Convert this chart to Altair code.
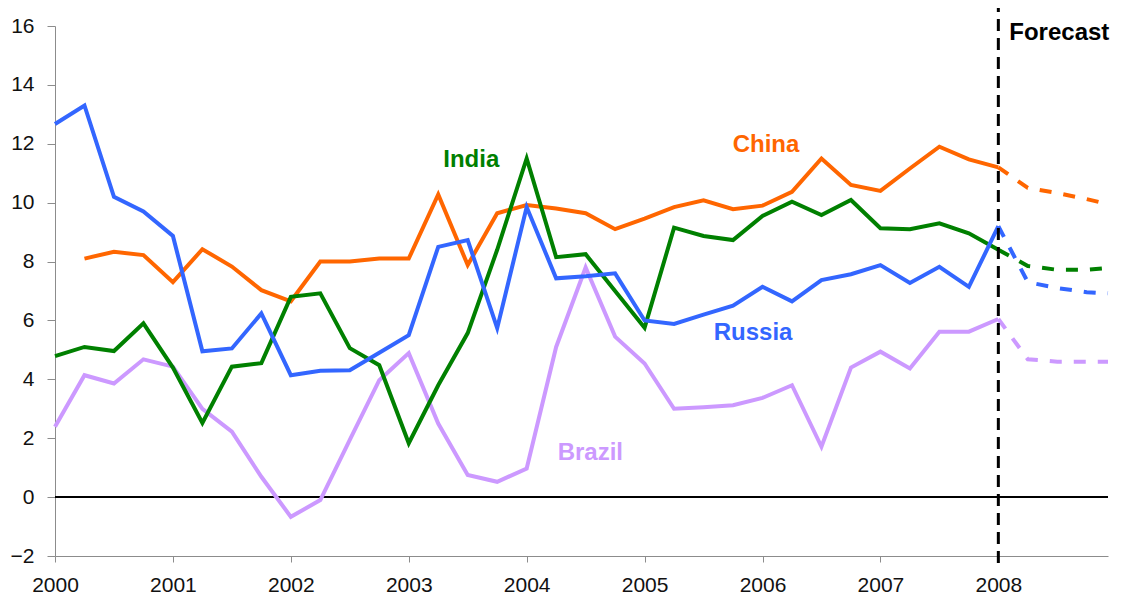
import altair as alt
import pandas as pd

# quarterly observations 2000Q1 .. 2008Q1
quarters = [2000 + i * 0.25 for i in range(33)]

china = [None, 8.1, 8.33, 8.22, 7.3, 8.42, 7.83, 7.03, 6.65, 8.0, 8.0, 8.1, 8.1,
         10.28, 7.88, 9.64, 9.92, 9.8, 9.64, 9.1, 9.46, 9.85, 10.08, 9.78, 9.9,
         10.37, 11.5, 10.6, 10.4, 11.16, 11.9, 11.47, 11.2]
india = [4.79, 5.1, 4.96, 5.9, 4.4, 2.52, 4.43, 4.55, 6.8, 6.92, 5.06, 4.48, 1.83,
         3.8, 5.57, 8.4, 11.5, 8.15, 8.25, 7.0, 5.75, 9.15, 8.87, 8.73, 9.55,
         10.03, 9.58, 10.09, 9.13, 9.1, 9.3, 8.96, 8.4]
russia = [12.67, 13.3, 10.2, 9.7, 8.87, 4.95, 5.05, 6.24, 4.14, 4.29, 4.31, 4.9, 5.5,
          8.5, 8.73, 5.74, 9.85, 7.43, 7.5, 7.6, 6.0, 5.88, 6.2, 6.5, 7.14,
          6.65, 7.37, 7.57, 7.88, 7.27, 7.82, 7.14, 9.2]
brazil = [2.39, 4.14, 3.86, 4.68, 4.43, 3.0, 2.22, 0.69, -0.67, -0.1, 1.94, 3.97, 4.89,
          2.5, 0.75, 0.52, 0.97, 5.1, 7.8, 5.45, 4.54, 3.0, 3.05, 3.12, 3.37,
          3.8, 1.71, 4.4, 4.94, 4.37, 5.62, 5.62, 6.05]

# forecast path
forecast_x = [2008.0, 2008.25, 2008.5, 2008.75, 2008.93]
china_fc = [11.2, 10.5, 10.33, 10.12, 9.95]
india_fc = [8.4, 7.85, 7.72, 7.72, 7.78]
russia_fc = [9.2, 7.3, 7.1, 6.96, 6.92]
brazil_fc = [6.05, 4.68, 4.6, 4.6, 4.6]

countries = ["Brazil", "China", "India", "Russia"]
colors = ["#CC99FF", "#FF6600", "#008000", "#3366FF"]

# in-chart series labels
label_names = ["China", "India", "Russia", "Brazil"]
label_x = [2006.03, 2003.53, 2005.92, 2004.54]
label_y = [11.96, 11.45, 5.57, 1.49]

forecast_year = 2008
x_ticks = list(range(2000, 2009))
y_ticks = list(range(-2, 17, 2))

series = {"Brazil": (brazil, brazil_fc), "China": (china, china_fc),
          "India": (india, india_fc), "Russia": (russia, russia_fc)}
rows = []
for name in countries:
    act, fc = series[name]
    for x, v in zip(quarters, act):
        if v is not None:
            rows.append({"x": x, "v": v, "country": name, "part": "actual"})
    for x, v in zip(forecast_x, fc):
        rows.append({"x": x, "v": v, "country": name, "part": "forecast"})
df = pd.DataFrame(rows)

labels_df = pd.DataFrame({"label": label_names, "x": label_x, "y": label_y})

xscale = alt.Scale(domain=[2000, 2008.93], nice=False, zero=False)
yscale = alt.Scale(domain=[-2, 16], nice=False, zero=False)
cscale = alt.Scale(domain=countries, range=colors)

xaxis = alt.Axis(values=x_ticks, format="d", title=None, tickSize=6, labelPadding=12,
                 labelFlush=False)
yaxis = alt.Axis(values=y_ticks, title=None, tickSize=8, labelPadding=13)

base = alt.Chart(df)

actual = base.transform_filter("datum.part == 'actual'").mark_line(
    strokeWidth=4, strokeJoin="miter"
).encode(
    x=alt.X("x:Q", scale=xscale, axis=xaxis),
    y=alt.Y("v:Q", scale=yscale, axis=yaxis),
    color=alt.Color("country:N", scale=cscale, legend=None),
)

forecast = base.transform_filter("datum.part == 'forecast'").mark_line(
    strokeWidth=4, strokeDash=[12, 12], strokeCap="butt"
).encode(
    x=alt.X("x:Q", scale=xscale),
    y=alt.Y("v:Q", scale=yscale),
    color=alt.Color("country:N", scale=cscale, legend=None),
)

zero_line = alt.Chart(pd.DataFrame({"z": [0]})).mark_rule(color="#000000", strokeWidth=2).encode(
    y=alt.Y("z:Q", scale=yscale)
)

vline = alt.Chart(pd.DataFrame({"fx": [forecast_year]})).mark_rule(
    color="#000000", strokeWidth=3, strokeDash=[12, 7]
).encode(
    x=alt.X("fx:Q", scale=xscale),
    y=alt.value(-26),
    y2=alt.value(542),
)

fc_text = alt.Chart(pd.DataFrame({"t": ["Forecast"], "x": [2008.093], "y": [15.76]})).mark_text(
    align="left", baseline="middle", fontSize=24, fontWeight="bold",
    font="Liberation Sans", color="#000000"
).encode(
    x=alt.X("x:Q", scale=xscale),
    y=alt.Y("y:Q", scale=yscale),
    text="t:N",
)

series_labels = alt.Chart(labels_df).mark_text(
    align="center", baseline="middle", fontSize=24, fontWeight="bold",
    font="Liberation Sans"
).encode(
    x=alt.X("x:Q", scale=xscale),
    y=alt.Y("y:Q", scale=yscale),
    text="label:N",
    color=alt.Color("label:N", scale=cscale, legend=None),
)

chart = alt.layer(
    zero_line, actual, forecast, vline, fc_text, series_labels
).properties(
    width=1053,
    height=530,
    autosize=alt.AutoSizeParams(type="none"),
    padding={"left": 47, "top": 18, "right": 6, "bottom": 42},
).configure_view(
    stroke=None
).configure_axis(
    grid=False,
    labelFont="Liberation Sans",
    labelFontSize=21,
    labelColor="#111111",
    domainColor="#8c8c8c",
    tickColor="#8c8c8c",
    domainWidth=1,
)

chart.save("out.html", embed_options={"renderer": "svg", "actions": False})
